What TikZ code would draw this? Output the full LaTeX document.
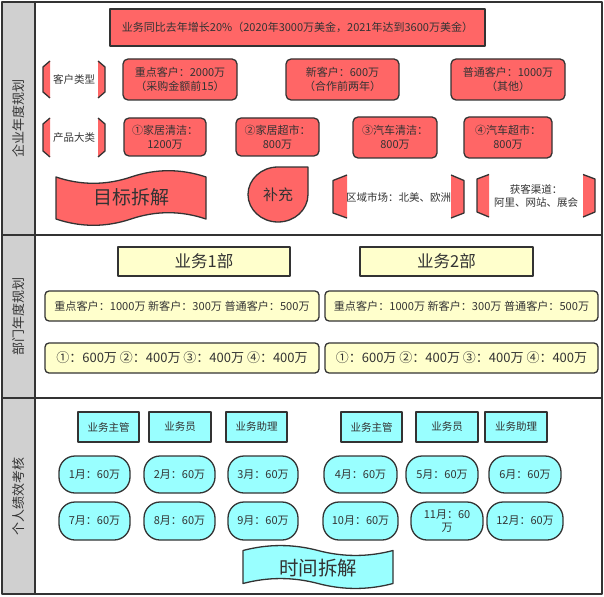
\documentclass[tikz,border=0pt]{standalone}
\usepackage{fontspec}
\setmainfont{Noto Sans CJK SC}
\definecolor{lnc}{HTML}{333333}
\definecolor{txc}{HTML}{333333}
\definecolor{redf}{HTML}{FF6666}
\definecolor{yelf}{HTML}{FFFFCC}
\definecolor{cyaf}{HTML}{99FFFF}
\definecolor{grayf}{HTML}{D0D0D0}
\begin{document}
\begin{tikzpicture}[x=1pt,y=-1pt,line join=round,
  every node/.style={text=txc,inner sep=0pt,align=center},
  base/.style={draw=lnc,line width=1.3pt},
  redbox/.style={base,fill=redf,rounded corners=5pt,font=\fontsize{11}{14}\selectfont},
  redsq/.style={base,fill=redf,font=\fontsize{11}{14}\selectfont},
  yelbox/.style={base,fill=yelf,rounded corners=4pt},
  yelsq/.style={base,fill=yelf,font=\fontsize{16.5}{18}\selectfont},
  cyasq/.style={base,fill=cyaf,minimum width=61pt,minimum height=30pt,font=\fontsize{10.5}{12}\selectfont},
  pill/.style={base,fill=cyaf,rounded corners=16pt,minimum height=37pt,font=\fontsize{11}{13}\selectfont},
  lbl/.style={font=\fontsize{10.5}{13}\selectfont},
  lanetitle/.style={rotate=90,font=\fontsize{13}{14}\selectfont},
  brkfill/.style={fill=redf},
  brkline/.style={base}
]
\useasboundingbox (0,0) rectangle (604,596);
% lanes
\draw[base,fill=grayf] (2,2) rectangle (35,594);
\draw[base] (35,2) rectangle (602,594);
\draw[base] (2,235) -- (602,235);
\draw[base] (2,398) -- (602,398);
\node[lanetitle] (t1) at (18.5,118.5) {企业年度规划};
\node[lanetitle] (t2) at (18.5,316.5) {部门年度规划};
\node[lanetitle] (t3) at (18.5,496) {个人绩效考核};

% lane 1
\node[redsq,minimum width=375pt,minimum height=37pt] (top) at (297.5,27.5)
  {业务同比去年增长20\%（2020年3000万美金，2021年达到3600万美金）};
\node[redbox,minimum width=114pt,minimum height=41pt] (c1) at (180,79.5) {重点客户：2000万\\（采购金额前15）};
\node[redbox,minimum width=113pt,minimum height=41pt] (c2) at (342.5,79.5) {新客户：600万\\（合作前两年）};
\node[redbox,minimum width=114pt,minimum height=41pt] (c3) at (508,79.5) {普通客户：1000万\\（其他）};
\node[redbox,minimum width=82pt,minimum height=38pt] (p1) at (165,137) {①家居清洁：\\1200万};
\node[redbox,minimum width=83pt,minimum height=38pt] (p2) at (277.5,137) {②家居超市：\\800万};
\node[redbox,minimum width=84pt,minimum height=41pt] (p3) at (395,137.5) {③汽车清洁：\\800万};
\node[redbox,minimum width=88pt,minimum height=41pt] (p4) at (508,137.5) {④汽车超市：\\800万};

% brackets 客户类型
\fill[brkfill] (50,61) -- (43,67) -- (43,92) -- (50,98) -- cycle;
\draw[brkline] (50,61) -- (43,67) -- (43,92) -- (50,98);
\fill[brkfill] (98,61) -- (105,67) -- (105,92) -- (98,98) -- cycle;
\draw[brkline] (98,61) -- (105,67) -- (105,92) -- (98,98);
\node[lbl] (k1) at (74,79.5) {客户类型};
% brackets 产品大类
\fill[brkfill] (50,118) -- (43,124) -- (43,151) -- (50,157) -- cycle;
\draw[brkline] (50,118) -- (43,124) -- (43,151) -- (50,157);
\fill[brkfill] (98,118) -- (105,124) -- (105,151) -- (98,157) -- cycle;
\draw[brkline] (98,118) -- (105,124) -- (105,151) -- (98,157);
\node[lbl] (k2) at (74,137.5) {产品大类};

% tape 目标拆解
\draw[base,fill=redf] (56,177) .. controls (81,185.4) and (106,185.4) .. (131,177)
  .. controls (156,168.6) and (181,168.6) .. (206,177) -- (206,219)
  .. controls (181,210.6) and (156,210.6) .. (131,219)
  .. controls (106,227.4) and (81,227.4) .. (56,219) -- cycle;
\node[font=\fontsize{19}{20}\selectfont] (goal) at (131,197) {目标拆解};

% 补充
\draw[base,fill=redf] (308,167) -- (308,194.5) .. controls (308,209.7) and (294.6,222) .. (278,222)
  .. controls (261.4,222) and (248,209.7) .. (248,194.5)
  .. controls (248,179.3) and (261.4,167) .. (278,167) -- cycle;
\node[font=\fontsize{15}{16}\selectfont] (supp) at (278,195) {补充};

% 区域市场
\fill[brkfill] (347,175) -- (333,180.5) -- (333,213) -- (347,218) -- cycle;
\draw[brkline] (347,175) -- (333,180.5) -- (333,213) -- (347,218);
\fill[brkfill] (451,175) -- (464,180.5) -- (464,213) -- (451,218) -- cycle;
\draw[brkline] (451,175) -- (464,180.5) -- (464,213) -- (451,218);
\node[lbl] (reg) at (398.5,197) {区域市场：北美、欧洲};

% 获客渠道
\fill[brkfill] (489,174.5) -- (477,179) -- (477,212) -- (489,217) -- cycle;
\draw[brkline] (489,174.5) -- (477,179) -- (477,212) -- (489,217);
\fill[brkfill] (583,174.5) -- (595,179) -- (595,212) -- (583,217) -- cycle;
\draw[brkline] (583,174.5) -- (595,179) -- (595,212) -- (583,217);
\node[lbl] (chn) at (536,195.5) {获客渠道：\\阿里、网站、展会};

% lane 2
\node[yelsq,minimum width=172pt,minimum height=29pt] (b1) at (204,261.5) {业务1部};
\node[yelsq,minimum width=173pt,minimum height=29pt] (b2) at (446.5,261.5) {业务2部};
\node[yelbox,minimum width=274pt,minimum height=30pt,font=\fontsize{11.1}{12}\selectfont] (r1l) at (182,306) {重点客户：1000万 新客户：300万 普通客户：500万};
\node[yelbox,minimum width=273pt,minimum height=30pt,font=\fontsize{11.1}{12}\selectfont] (r1r) at (461.5,306) {重点客户：1000万 新客户：300万 普通客户：500万};
\node[yelbox,minimum width=274pt,minimum height=30pt,font=\fontsize{13}{14}\selectfont] (r2l) at (182,358) {①：600万 ②：400万 ③：400万 ④：400万};
\node[yelbox,minimum width=273pt,minimum height=30pt,font=\fontsize{13}{14}\selectfont] (r2r) at (461.5,358) {①：600万 ②：400万 ③：400万 ④：400万};

% lane 3
\node[cyasq] (m1) at (108.5,427) {业务主管};
\node[cyasq,minimum width=62pt] (m2) at (180,427) {业务员};
\node[cyasq] (m3) at (256.5,427) {业务助理};
\node[cyasq] (m4) at (371.5,427) {业务主管};
\node[cyasq,minimum width=62pt] (m5) at (447,427) {业务员};
\node[cyasq,minimum width=62pt] (m6) at (516,427) {业务助理};

\node[pill,minimum width=71pt] (mo1) at (94.5,474.5) {1月：60万};
\node[pill,minimum width=71pt] (mo2) at (179.5,474.5) {2月：60万};
\node[pill,minimum width=70pt] (mo3) at (263,474.5) {3月：60万};
\node[pill,minimum width=73pt] (mo4) at (360.5,474.5) {4月：60万};
\node[pill,minimum width=72pt] (mo5) at (442,474.5) {5月：60万};
\node[pill,minimum width=72pt] (mo6) at (525,474.5) {6月：60万};
\node[pill,minimum width=71pt,minimum height=38pt] (mo7) at (94.5,521) {7月：60万};
\node[pill,minimum width=71pt,minimum height=38pt] (mo8) at (179.5,521) {8月：60万};
\node[pill,minimum width=70pt,minimum height=38pt] (mo9) at (263,521) {9月：60万};
\node[pill,minimum width=75pt,minimum height=38pt] (mo10) at (360.5,521) {10月：60万};
\node[pill,minimum width=72pt,minimum height=38pt] (mo11) at (447,521) {11月：60\\万};
\node[pill,minimum width=76pt,minimum height=38pt] (mo12) at (525,521) {12月：60万};

% tape 时间拆解 (wave reversed)
\draw[base,fill=cyaf] (243,550.5) .. controls (268,543.9) and (293,543.9) .. (318,550.5)
  .. controls (343,557.1) and (368,557.1) .. (393,550.5) -- (393,583.5)
  .. controls (368,590.1) and (343,590.1) .. (318,583.5)
  .. controls (293,576.9) and (268,576.9) .. (243,583.5) -- cycle;
\node[font=\fontsize{19.5}{20}\selectfont] (time) at (318,568) {时间拆解};
\end{tikzpicture}
\end{document}
